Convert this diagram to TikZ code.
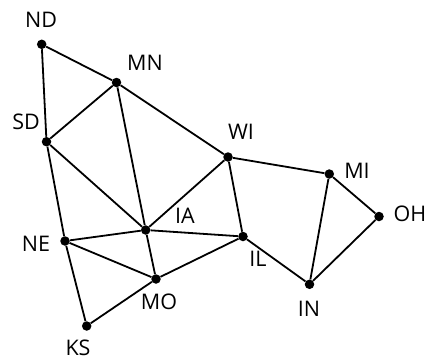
\documentclass[tikz,border=0pt]{standalone}
\usepackage{fontspec}
\setmainfont{Open Sans}
\tikzset{
  vtx/.style={circle,fill=black,inner sep=0pt,minimum size=9.5pt},
  lbl/.style={font=\fontsize{21.5}{21.5}\selectfont,inner sep=0pt,anchor=center},
  edge/.style={line width=1.8pt}
}
\begin{document}
\begin{tikzpicture}[x=1pt,y=-1pt]
\useasboundingbox (0,0) rectangle (428,360);
\node[vtx] (ND) at (41.7,44.3) {};
\node[vtx] (MN) at (116.5,82.5) {};
\node[vtx] (SD) at (46.5,141.7) {};
\node[vtx] (WI) at (228,157) {};
\node[vtx] (MI) at (329.3,174) {};
\node[vtx] (OH) at (379,216.5) {};
\node[vtx] (IA) at (145.7,230) {};
\node[vtx] (NE) at (65,241) {};
\node[vtx] (IL) at (243,236.5) {};
\node[vtx] (MO) at (156,279) {};
\node[vtx] (IN) at (309.5,284.3) {};
\node[vtx] (KS) at (86.7,326) {};
\foreach \a/\b in {ND/MN,ND/SD,SD/MN,MN/WI,MN/IA,SD/IA,SD/NE,WI/IA,WI/IL,WI/MI,MI/OH,MI/IN,OH/IN,IN/IL,IA/IL,NE/IA,NE/MO,NE/KS,IA/MO,MO/IL,KS/MO}
  \draw[edge] (\a) -- (\b);
\node[lbl] (tND) at (41,19.5) {ND};
\node[lbl] (tMN) at (145,63) {MN};
\node[lbl] (tSD) at (26,122) {SD};
\node[lbl] (tWI) at (241,132) {WI};
\node[lbl] (tMI) at (357,171) {MI};
\node[lbl] (tOH) at (410,214) {OH};
\node[lbl] (tIA) at (185,216) {IA};
\node[lbl] (tNE) at (36,244) {NE};
\node[lbl] (tIL) at (258,259) {IL};
\node[lbl] (tMO) at (159,302) {MO};
\node[lbl] (tIN) at (309,309) {IN};
\node[lbl] (tKS) at (78,348) {KS};
\end{tikzpicture}
\end{document}
